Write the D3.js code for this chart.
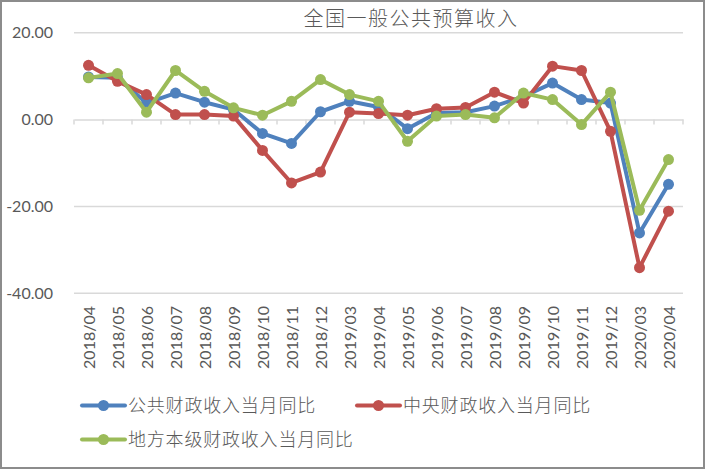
<!DOCTYPE html>
<html><head><meta charset="utf-8">
<script src="https://cdn.jsdelivr.net/npm/d3@7"></script>
<style>body{margin:0;background:#fff}svg{display:block}</style>
</head><body><svg id="c" width="705" height="469"></svg>
<script>
const categories = ["2018/04","2018/05","2018/06","2018/07","2018/08","2018/09","2018/10","2018/11","2018/12","2019/03","2019/04","2019/05","2019/06","2019/07","2019/08","2019/09","2019/10","2019/11","2019/12","2020/03","2020/04"];
const publicRevenue = [9.8,9.6,3.8,6.1,4.0,2.3,-3.2,-5.5,1.8,4.2,2.9,-2.1,1.5,1.7,3.1,5.3,8.4,4.6,3.8,-26.1,-14.9];
const centralRevenue = [12.5,8.8,5.75,1.15,1.15,0.8,-7.1,-14.6,-12.1,1.7,1.4,1.0,2.5,2.8,6.3,3.8,12.3,11.3,-2.7,-34.1,-21.1];
const localRevenue = [9.6,10.6,1.7,11.3,6.5,2.7,1.0,4.2,9.2,5.75,4.2,-5.0,0.8,1.15,0.4,6.1,4.6,-1.15,6.3,-20.9,-9.2];
const yTicks = [20,0,-20,-40];
const seriesNames = ["公共财政收入当月同比","中央财政收入当月同比","地方本级财政收入当月同比"];
const colors = ["#4F81BD","#C0504D","#9BBB59"];
const title = "全国一般公共预算收入";

const svg = d3.select("#c");
svg.append("rect").attr("x",1).attr("y",1).attr("width",703).attr("height",467)
  .attr("fill","#fff").attr("stroke","#8c8c8c").attr("stroke-width",2);

const x = d3.scaleBand().domain(categories).range([74,683]);
const y = d3.scaleLinear().domain([-40,20]).range([293.3,32.7]);

// gridlines
svg.append("g").selectAll("line").data(yTicks.filter(d=>d!==0)).join("line")
  .attr("x1",74).attr("x2",683).attr("y1",d=>y(d)).attr("y2",d=>y(d))
  .attr("stroke","#D9D9D9").attr("stroke-width",1.5);

// y labels
svg.append("g").selectAll("text").data(yTicks).join("text")
  .attr("x",53).attr("y",d=>y(d)).attr("dy","0.36em").attr("text-anchor","end")
  .attr("font-family","Lato, 'Open Sans', sans-serif").attr("font-size",16).attr("fill","#595959")
  .text(d=>d.toFixed(2));

// category axis at 0
const xAxis = d3.axisBottom(x).tickSize(0).tickFormat("");
const ag = svg.append("g").attr("transform",`translate(0,${y(0)})`).call(xAxis);
ag.select(".domain").attr("stroke","#D9D9D9").attr("stroke-width",1.5);
const bounds = categories.map(c=>x(c)).concat([x.range()[1]]);
ag.selectAll(".tk").data(bounds).join("line").attr("class","tk")
  .attr("x1",d=>d).attr("x2",d=>d).attr("y1",0).attr("y2",5)
  .attr("stroke","#D9D9D9").attr("stroke-width",1.5);

// x labels
svg.append("g").selectAll("text").data(categories).join("text")
  .attr("transform",d=>`translate(${x(d)+x.bandwidth()/2+1},306) rotate(-90)`)
  .attr("text-anchor","end").attr("dy","0.36em")
  .attr("font-family","Lato, 'Open Sans', sans-serif").attr("font-size",16).attr("fill","#595959")
  .text(d=>d);

// title
svg.append("text").attr("x",411).attr("y",26).attr("text-anchor","middle")
  .attr("font-family","'Noto Sans CJK SC', sans-serif").attr("font-size",20).attr("font-weight",300)
  .attr("letter-spacing",1.5).attr("fill","#595959").text(title);

// series
const allSeries = [publicRevenue, centralRevenue, localRevenue];
const line = d3.line().x((d,i)=>x(categories[i])+x.bandwidth()/2).y(d=>y(d));
allSeries.forEach((vals,si)=>{
  const g = svg.append("g");
  g.append("path").datum(vals).attr("d",line).attr("fill","none")
    .attr("stroke",colors[si]).attr("stroke-width",4).attr("stroke-linejoin","round");
  g.selectAll("circle").data(vals).join("circle")
    .attr("cx",(d,i)=>x(categories[i])+x.bandwidth()/2).attr("cy",d=>y(d)).attr("r",5.5)
    .attr("fill",colors[si]);
});

// legend
const legendPos = [[82,405.5],[357,405.5],[82,439.5]];
seriesNames.forEach((n,i)=>{
  const [lx,ly] = legendPos[i];
  const g = svg.append("g");
  g.append("line").attr("x1",lx).attr("x2",lx+43).attr("y1",ly).attr("y2",ly)
    .attr("stroke",colors[i]).attr("stroke-width",4).attr("stroke-linecap","round");
  g.append("circle").attr("cx",lx+21.5).attr("cy",ly).attr("r",5.5).attr("fill",colors[i]);
  g.append("text").attr("x",lx+46).attr("y",ly).attr("dy","0.36em")
    .attr("font-family","'Noto Sans CJK SC', sans-serif").attr("font-size",18).attr("font-weight",300)
    .attr("letter-spacing",0.8).attr("fill","#595959").text(n);
});
</script></body></html>
